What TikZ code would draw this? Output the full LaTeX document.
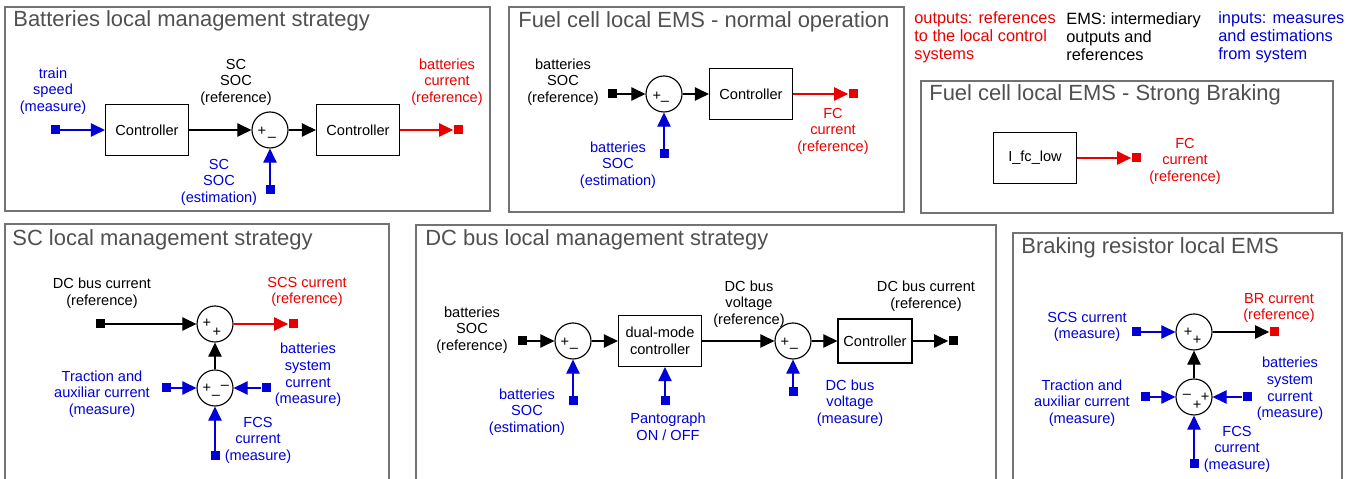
\documentclass[tikz,border=0pt]{standalone}
\usepackage{fontspec}
\setmainfont{Liberation Sans}
\usetikzlibrary{arrows.meta}

\definecolor{inblue}{RGB}{0,0,215}
\definecolor{outred}{RGB}{232,0,0}
\definecolor{titlegray}{RGB}{80,80,80}
\definecolor{framegray}{RGB}{115,115,115}

\begin{document}
\begin{tikzpicture}[x=0.02cm, y=-0.02cm]

\def\px{0.02cm}
\def\lw{0.65pt}

\useasboundingbox (0,0) rectangle (1357,479);

% ---------- style ----------
\tikzset{
  lbl/.style={font=\fontsize{8.3}{9.4}\selectfont, align=center, inner sep=0pt},
  paneltitle/.style={font=\fontsize{12.5}{14}\selectfont, text=titlegray,
    anchor=base west, inner sep=0pt},
  legendtext/.style={font=\fontsize{9.3}{10.3}\selectfont, align=left,
    anchor=west, inner sep=0pt},
  panelframe/.style={draw=framegray, line width=0.8pt},
  blockbox/.style={draw, line width=\lw, minimum width=83*\px,
    minimum height=51*\px, inner sep=0pt, align=center,
    font=\fontsize{8.3}{9.4}\selectfont},
  sumnode/.style={draw, circle, line width=\lw, minimum size=36*\px, inner sep=0pt},
  port/.style={fill, minimum size=9*\px, inner sep=0pt},
  sumsign/.style={font=\fontsize{8.3}{9.4}\selectfont, inner sep=0pt},
  flowarrow/.style={-{Triangle[length=8pt, width=7.6pt]}, line width=\lw}
}

% ---------- ramki i tytuly ----------
\foreach \xa/\ya/\xb/\yb/\tx/\ty/\title [count=\i from 1] in {
  5/7/490/211/13/27/Batteries local management strategy,
  509/7/904/212/518/28/Fuel cell local EMS - normal operation,
  921/81/1333/213/929/101/Fuel cell local EMS - Strong Braking,
  5/224/389/485/12/246/SC local management strategy,
  416/225/996/485/425/246/DC bus local management strategy,
  1013/233/1342/485/1021/254/Braking resistor local EMS
} {
  \draw[panelframe] (\xa,\ya) rectangle (\xb,\yb);
  \node[paneltitle] (title-\i) at (\tx,\ty) {\title};
}

% ---------- legenda ----------
\node[legendtext, outred] (leg-out) at (914,37) {outputs: references\\to the local control\\systems};
\node[legendtext] (leg-ems) at (1066,37) {EMS: intermediary\\outputs and\\references};
\node[legendtext, inblue] (leg-in) at (1218,37) {inputs: measures\\and estimations\\from system};

% ---------- batteries ----------
\node[port, inblue] (b-in) at (55,130) {};
\node[blockbox] (b-ctrl1) at (147,130) {Controller};
\node[sumnode] (b-sum) at (270,130) {};
\node[blockbox] (b-ctrl2) at (358,130) {Controller};
\node[port, outred] (b-out) at (458,130) {};
\node[port, inblue] (b-est) at (270,190) {};
\node[sumsign] (b-sum-p) at ([shift={(-8,1)}]b-sum.center) {+};
\node[sumsign] (b-sum-m) at ([shift={(2,9)}]b-sum.center) {–};

\draw[flowarrow, inblue] (b-in) -- (b-ctrl1);
\draw[flowarrow] (b-ctrl1) -- (b-sum);
\draw[flowarrow] (b-sum) -- (b-ctrl2);
\draw[flowarrow, outred] (b-ctrl2) -- (b-out);
\draw[flowarrow, inblue] (b-est) -- (b-sum);

\node[lbl, inblue] (b-l1) at (53,91) {train\\speed\\(measure)};
\node[lbl] (b-l2) at (236,82) {SC\\SOC\\(reference)};
\node[lbl, outred] (b-l3) at (447,82) {batteries\\current\\(reference)};
\node[lbl, inblue] (b-l4) at (219,182) {SC\\SOC\\(estimation)};

% ---------- fuel cell, normal ----------
\node[port] (f-in) at (612,94) {};
\node[sumnode] (f-sum) at (664,94) {};
\node[blockbox] (f-ctrl) at (751,94) {Controller};
\node[port, outred] (f-out) at (853,94) {};
\node[port, inblue] (f-est) at (664,154) {};
\node[sumsign] (f-sum-p) at ([shift={(-7,2)}]f-sum.center) {+};
\node[sumsign] (f-sum-m) at ([shift={(1,9)}]f-sum.center) {–};

\draw[flowarrow] (f-in) -- (f-sum);
\draw[flowarrow] (f-sum) -- (f-ctrl);
\draw[flowarrow, outred] (f-ctrl) -- (f-out);
\draw[flowarrow, inblue] (f-est) -- (f-sum);

\node[lbl] (f-l1) at (563,82) {batteries\\SOC\\(reference)};
\node[lbl, outred] (f-l2) at (833,131) {FC\\current\\(reference)};
\node[lbl, inblue] (f-l3) at (618,165) {batteries\\SOC\\(estimation)};

% ---------- fuel cell, strong braking ----------
\node[blockbox] (s-ifc) at (1035,158) {I\_fc\_low};
\node[port, outred] (s-out) at (1136,158) {};
\draw[flowarrow, outred] (s-ifc) -- (s-out);
\node[lbl, outred] (s-l1) at (1185,161) {FC\\current\\(reference)};

% ---------- SC ----------
\node[port] (c-in) at (100,324) {};
\node[sumnode] (c-sum1) at (215,324) {};
\node[port, outred] (c-out) at (293,324) {};
\node[sumnode] (c-sum2) at (215,388) {};
\node[port, inblue] (c-trac) at (166,388) {};
\node[port, inblue] (c-batt) at (266,388) {};
\node[port, inblue] (c-fcs) at (215,456) {};
\node[sumsign] (c-sum1-a) at ([shift={(-8,-1)}]c-sum1.center) {+};
\node[sumsign] (c-sum1-b) at ([shift={(2,8)}]c-sum1.center) {+};
\node[sumsign] (c-sum2-a) at ([shift={(-8,0)}]c-sum2.center) {+};
\node[sumsign] (c-sum2-b) at ([shift={(1,9)}]c-sum2.center) {–};
\node[sumsign] (c-sum2-c) at ([shift={(10,-1)}]c-sum2.center) {–};

\draw[flowarrow] (c-in) -- (c-sum1);
\draw[flowarrow, outred] (c-sum1) -- (c-out);
\draw[flowarrow] (c-sum2) -- (c-sum1);
\draw[flowarrow, inblue] (c-trac) -- (c-sum2);
\draw[flowarrow, inblue] (c-batt) -- (c-sum2);
\draw[flowarrow, inblue] (c-fcs) -- (c-sum2);

\node[lbl] (c-l1) at (102,293) {DC bus current\\(reference)};
\node[lbl, outred] (c-l2) at (307,292) {SCS current\\(reference)};
\node[lbl, inblue] (c-l3) at (102,394) {Traction and\\auxiliar current\\(measure)};
\node[lbl, inblue] (c-l4) at (308,375) {batteries\\system\\current\\(measure)};
\node[lbl, inblue] (c-l5) at (258,440) {FCS\\current\\(measure)};

% ---------- DC bus ----------
\node[port] (d-in) at (522,341) {};
\node[sumnode] (d-sum1) at (573,341) {};
\node[blockbox] (d-dual) at (660,341) {dual-mode\\controller};
\node[sumnode] (d-sum2) at (793,341) {};
\node[blockbox, minimum width=74*\px, minimum height=44*\px] (d-ctrl) at (875,341) {Controller};
\node[port] (d-out) at (953,341) {};
\node[port, inblue] (d-soc) at (573,401) {};
\node[port, inblue] (d-pan) at (665,401) {};
\node[port, inblue] (d-volt) at (793,392) {};
\node[sumsign] (d-sum1-p) at ([shift={(-8,1)}]d-sum1.center) {+};
\node[sumsign] (d-sum1-m) at ([shift={(1,9)}]d-sum1.center) {–};
\node[sumsign] (d-sum2-p) at ([shift={(-8,1)}]d-sum2.center) {+};
\node[sumsign] (d-sum2-m) at ([shift={(1,9)}]d-sum2.center) {–};

\draw[flowarrow] (d-in) -- (d-sum1);
\draw[flowarrow] (d-sum1) -- (d-dual);
\draw[flowarrow] (d-dual) -- (d-sum2);
\draw[flowarrow] (d-sum2) -- (d-ctrl);
\draw[flowarrow] (d-ctrl) -- (d-out);
\draw[flowarrow, inblue] (d-soc) -- (d-sum1);
\draw[flowarrow, inblue] (d-pan) -- (d-pan |- d-dual.south);
\draw[flowarrow, inblue] (d-volt) -- (d-sum2);

\node[lbl] (d-l1) at (472,330) {batteries\\SOC\\(reference)};
\node[lbl] (d-l2) at (749,304) {DC bus\\voltage\\(reference)};
\node[lbl] (d-l3) at (926,296) {DC bus current\\(reference)};
\node[lbl, inblue] (d-l4) at (527,412) {batteries\\SOC\\(estimation)};
\node[lbl, inblue] (d-l5) at (668,427) {Pantograph\\ON / OFF};
\node[lbl, inblue] (d-l6) at (850,403) {DC bus\\voltage\\(measure)};

% ---------- braking resistor ----------
\node[port, inblue] (r-scs) at (1136,332) {};
\node[sumnode] (r-sum1) at (1194,332) {};
\node[port, outred] (r-out) at (1274,332) {};
\node[sumnode] (r-sum2) at (1194,397) {};
\node[port, inblue] (r-trac) at (1145,397) {};
\node[port, inblue] (r-batt) at (1247,397) {};
\node[port, inblue] (r-fcs) at (1194,464) {};
\node[sumsign] (r-sum1-a) at ([shift={(-6,0)}]r-sum1.center) {+};
\node[sumsign] (r-sum1-b) at ([shift={(3,8)}]r-sum1.center) {+};
\node[sumsign] (r-sum2-a) at ([shift={(-7,-1)}]r-sum2.center) {–};
\node[sumsign] (r-sum2-b) at ([shift={(11,0)}]r-sum2.center) {+};
\node[sumsign] (r-sum2-c) at ([shift={(3,8)}]r-sum2.center) {+};

\draw[flowarrow, inblue] (r-scs) -- (r-sum1);
\draw[flowarrow] (r-sum1) -- (r-out);
\draw[flowarrow] (r-sum2) -- (r-sum1);
\draw[flowarrow, inblue] (r-trac) -- (r-sum2);
\draw[flowarrow, inblue] (r-batt) -- (r-sum2);
\draw[flowarrow, inblue] (r-fcs) -- (r-sum2);

\node[lbl, inblue] (r-l1) at (1087,327) {SCS current\\(measure)};
\node[lbl, outred] (r-l2) at (1279,308) {BR current\\(reference)};
\node[lbl, inblue] (r-l3) at (1082,403) {Traction and\\auxiliar current\\(measure)};
\node[lbl, inblue] (r-l4) at (1290,389) {batteries\\system\\current\\(measure)};
\node[lbl, inblue] (r-l5) at (1237,449) {FCS\\current\\(measure)};

\end{tikzpicture}
\end{document}
